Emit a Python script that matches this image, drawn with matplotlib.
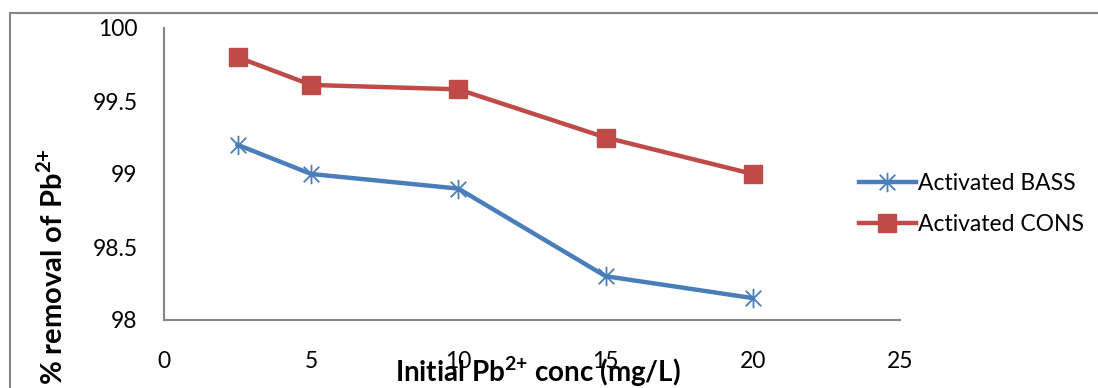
import matplotlib
matplotlib.use("Agg")
import matplotlib.pyplot as plt
from matplotlib.path import Path
from matplotlib.patches import Rectangle

plt.rcParams['font.family'] = ['Lato', 'DejaVu Sans']
plt.rcParams['mathtext.fontset'] = 'custom'
plt.rcParams['mathtext.rm'] = 'Lato'
plt.rcParams['mathtext.bf'] = 'Lato:bold'

conc = [2.5, 5, 10, 15, 20]
bass = [99.2, 99.0, 98.9, 98.3, 98.15]
cons = [99.8, 99.61, 99.58, 99.25, 99.0]

BLUE = "#4A7EBB"
RED = "#BE4B48"
GREY = "#868686"

# excel-like star marker: X plus vertical bar
star = Path([(-1, -1), (1, 1), (-1, 1), (1, -1), (0, -1.25), (0, 1.25)],
            [Path.MOVETO, Path.LINETO, Path.MOVETO, Path.LINETO, Path.MOVETO, Path.LINETO])

fig = plt.figure(figsize=(10.98, 3.88), dpi=100)
fig.patches.append(Rectangle((10 / 1098, -0.1), 1.2, 1 - 13 / 388 + 0.1, transform=fig.transFigure,
                             fill=False, edgecolor=GREY, linewidth=1.5))
ax = fig.add_axes([164 / 1098, 1 - 320 / 388, (900 - 164) / 1098, (320 - 28) / 388])

ax.plot(conc, bass, color=BLUE, linewidth=3.2, marker=star, markersize=14,
        markeredgewidth=1.3, markeredgecolor=BLUE, label="Activated BASS")
ax.plot(conc, cons, color=RED, linewidth=3.2, marker="s", markersize=13,
        markeredgecolor=RED, markerfacecolor=RED, label="Activated CONS")

ax.set_xlim(0, 25)
ax.set_ylim(98, 100)
ax.set_xticks([0, 5, 10, 15, 20, 25])
ax.set_yticks([98, 98.5, 99, 99.5, 100])
ax.set_yticklabels(["98", "98.5", "99", "99.5", "100"])
ax.tick_params(length=0, labelsize=16.5)
ax.tick_params(axis="y", pad=19)
ax.tick_params(axis="x", pad=22)
for s in ["top", "right"]:
    ax.spines[s].set_visible(False)
for s in ["left", "bottom"]:
    ax.spines[s].set_color(GREY)
    ax.spines[s].set_linewidth(1.5)

fig.text(538 / 1098, 1 - 372 / 388, r"Initial Pb$^{\mathbf{2{+}}}$ conc (mg/L)", ha="center", va="center",
         fontsize=20, fontweight="bold")
fig.text(52 / 1098, 1 - 148 / 388, r"% removal of Pb$^{\mathbf{2{+}}}$", ha="center", va="top",
         rotation=90, fontsize=21, fontweight="bold")

ax.legend(loc="center left", bbox_to_anchor=(838 / 1098, 1 - 204 / 388), bbox_transform=fig.transFigure,
          frameon=False, fontsize=16.5, handlelength=2.5, handletextpad=0.1, labelspacing=0.9)

fig.savefig("out.png", dpi=100)
